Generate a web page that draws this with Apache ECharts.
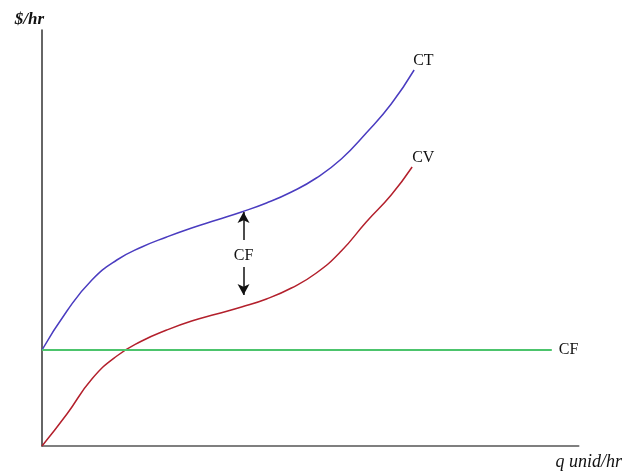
<!DOCTYPE html>
<html>
<head>
<meta charset="utf-8">
<script src="https://cdn.jsdelivr.net/npm/echarts@6/dist/echarts.min.js"></script>
<style>
  html, body { margin: 0; padding: 0; background: #fff; }
  #main { width: 625px; height: 473px; }
</style>
</head>
<body>
<div id="main"></div>
<script>
// curvas (q, $/hr)
const qX = [0, 25, 50, 75, 100, 125, 150, 175, 200, 225, 250, 275, 300, 325, 350]
const ctY = [96, 135, 166, 186, 199, 209, 218, 226, 234, 243, 254, 268, 287, 313, 342]
const cvY = [0, 32, 67, 90, 105, 116, 125, 132, 139, 147, 158, 173, 195, 224, 251]
const ctEnd = [373, 376]
const cvEnd = [371, 279]
const cfX = [0, 511]
const cfY = [96, 96]
// flecha CF entre CV y CT
const arrowQ = 202
const arrowUp = [206, 234]
const arrowDown = [179, 151]

const pts = (xs, ys, end) => xs.map((x, i) => [x, ys[i]]).concat([end])
const serif = '"Liberation Serif", "DejaVu Serif", serif'

const chart = echarts.init(document.getElementById('main'))
chart.setOption({
  animation: false,
  grid: { left: 42, right: 45, top: 30, bottom: 27 },
  xAxis: {
    type: 'value', min: 0, max: 538,
    name: 'q unid/hr', nameLocation: 'end', nameGap: 10,
    nameTextStyle: { fontFamily: serif, fontStyle: 'italic', fontSize: 18, color: '#111', align: 'center', verticalAlign: 'top', padding: [7, 0, 0, 0] },
    axisLine: { lineStyle: { color: '#555', width: 1.5 } },
    axisTick: { show: false }, axisLabel: { show: false }, splitLine: { show: false }
  },
  yAxis: {
    type: 'value', min: 0, max: 416,
    name: '$/hr', nameLocation: 'end', nameGap: 2,
    nameTextStyle: { fontFamily: serif, fontStyle: 'italic', fontWeight: 'bold', fontSize: 17, color: '#111', align: 'right', padding: [0, -2, 0, 0] },
    axisLine: { show: true, lineStyle: { color: '#333', width: 1.5 } },
    axisTick: { show: false }, axisLabel: { show: false }, splitLine: { show: false }
  },
  series: [
    {
      name: 'CT', type: 'line', smooth: 0.5, showSymbol: false,
      data: pts(qX, ctY, ctEnd),
      lineStyle: { color: '#4a3cc0', width: 1.5 },
      endLabel: { show: true, formatter: 'CT', fontFamily: serif, fontSize: 16, color: '#111', offset: [-9, -9] }
    },
    {
      name: 'CV', type: 'line', smooth: 0.5, showSymbol: false,
      data: pts(qX, cvY, cvEnd),
      lineStyle: { color: '#b3202c', width: 1.5 },
      endLabel: { show: true, formatter: 'CV', fontFamily: serif, fontSize: 16, color: '#111', offset: [-8, -9] }
    },
    {
      name: 'CF', type: 'line', showSymbol: false,
      data: cfX.map((x, i) => [x, cfY[i]]),
      lineStyle: { color: '#4cc46c', width: 2 },
      endLabel: { show: true, formatter: 'CF', fontFamily: serif, fontSize: 16, color: '#111', offset: [-1, 0] },
      markLine: {
        silent: true, symbol: ['none', 'arrow'], symbolSize: [9, 11],
        label: { show: false },
        lineStyle: { color: '#111', width: 1.5, type: 'solid' },
        data: [
          [{ coord: [arrowQ, arrowUp[0]] }, { coord: [arrowQ, arrowUp[1]] }],
          [{ coord: [arrowQ, arrowDown[0]] }, { coord: [arrowQ, arrowDown[1]] }]
        ]
      },
      markPoint: {
        silent: true, symbol: 'circle', symbolSize: 0,
        label: { show: true, formatter: 'CF', fontFamily: serif, fontSize: 16, color: '#111', position: 'inside' },
        data: [{ coord: [arrowQ, (arrowUp[0] + arrowDown[0]) / 2 - 2] }]
      }
    }
  ]
})
</script>
</body>
</html>
